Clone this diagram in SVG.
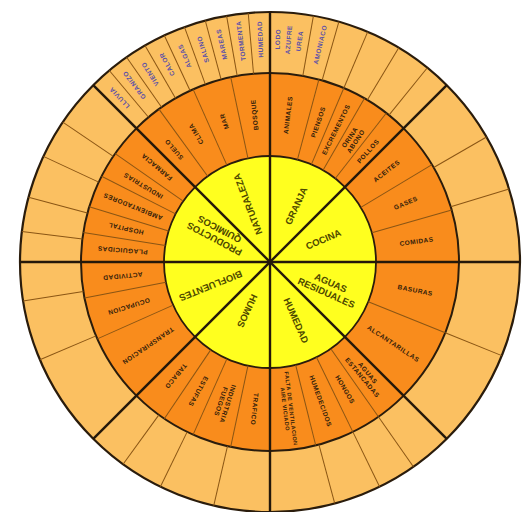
<svg xmlns="http://www.w3.org/2000/svg" width="523" height="512" viewBox="0 0 523 512">
<style>
.ro{fill:#FBC061;stroke:#2a1c0c;stroke-width:2.2}
.rm{fill:#F98C1C;stroke:#2a1c0c;stroke-width:2}
.ri{fill:#FFFF1F;stroke:#2a1c0c;stroke-width:1.8}
.thin{stroke:#8a5514;stroke-width:1}
.thick{stroke:#24180a;stroke-width:2.4}
text{font-family:"Liberation Sans",Arial,sans-serif;font-weight:bold;text-anchor:middle}
.ti{font-size:9.5px;fill:#4d4800}
.tm{font-size:6.5px;fill:#33200a;letter-spacing:0.5px}
.to{font-size:6.5px;fill:#5a4fa8;letter-spacing:0.5px}
</style>
<rect width="523" height="512" fill="#ffffff"/>
<g id="rings">
<circle class="ro" cx="270" cy="262" r="250"/>
<circle class="rm" cx="270" cy="262" r="189"/>
<circle class="ri" cx="270" cy="262" r="106"/>
</g>
<g id="connectors">
<g class="thin">
<line x1="459" y1="262" x2="520" y2="262" transform="rotate(-95 270 262)"/>
<line x1="459" y1="262" x2="520" y2="262" transform="rotate(-100 270 262)"/>
<line x1="459" y1="262" x2="520" y2="262" transform="rotate(-105 270 262)"/>
<line x1="459" y1="262" x2="520" y2="262" transform="rotate(-110 270 262)"/>
<line x1="459" y1="262" x2="520" y2="262" transform="rotate(-115 270 262)"/>
<line x1="459" y1="262" x2="520" y2="262" transform="rotate(-120 270 262)"/>
<line x1="459" y1="262" x2="520" y2="262" transform="rotate(-125 270 262)"/>
<line x1="459" y1="262" x2="520" y2="262" transform="rotate(-130 270 262)"/>
<line x1="459" y1="262" x2="520" y2="262" transform="rotate(-80 270 262)"/>
<line x1="459" y1="262" x2="520" y2="262" transform="rotate(-74 270 262)"/>
<line x1="459" y1="262" x2="520" y2="262" transform="rotate(-67 270 262)"/>
<line x1="459" y1="262" x2="520" y2="262" transform="rotate(-59 270 262)"/>
<line x1="459" y1="262" x2="520" y2="262" transform="rotate(-51 270 262)"/>
<line x1="459" y1="262" x2="520" y2="262" transform="rotate(-17 270 262)"/>
<line x1="459" y1="262" x2="520" y2="262" transform="rotate(-30 270 262)"/>
<line x1="459" y1="262" x2="520" y2="262" transform="rotate(22 270 262)"/>
<line x1="459" y1="262" x2="520" y2="262" transform="rotate(55 270 262)"/>
<line x1="459" y1="262" x2="520" y2="262" transform="rotate(64 270 262)"/>
<line x1="459" y1="262" x2="520" y2="262" transform="rotate(75 270 262)"/>
<line x1="459" y1="262" x2="520" y2="262" transform="rotate(-234 270 262)"/>
<line x1="459" y1="262" x2="520" y2="262" transform="rotate(-244 270 262)"/>
<line x1="459" y1="262" x2="520" y2="262" transform="rotate(-257 270 262)"/>
<line x1="459" y1="262" x2="520" y2="262" transform="rotate(-189 270 262)"/>
<line x1="459" y1="262" x2="520" y2="262" transform="rotate(-203 270 262)"/>
<line x1="459" y1="262" x2="520" y2="262" transform="rotate(-146 270 262)"/>
<line x1="459" y1="262" x2="520" y2="262" transform="rotate(-155 270 262)"/>
<line x1="459" y1="262" x2="520" y2="262" transform="rotate(-165 270 262)"/>
<line x1="459" y1="262" x2="520" y2="262" transform="rotate(-173 270 262)"/>
<line x1="376" y1="262" x2="459" y2="262" transform="rotate(-102 270 262)"/>
<line x1="376" y1="262" x2="459" y2="262" transform="rotate(-114 270 262)"/>
<line x1="376" y1="262" x2="459" y2="262" transform="rotate(-126 270 262)"/>
<line x1="376" y1="262" x2="459" y2="262" transform="rotate(-75 270 262)"/>
<line x1="376" y1="262" x2="459" y2="262" transform="rotate(-67 270 262)"/>
<line x1="376" y1="262" x2="459" y2="262" transform="rotate(-60 270 262)"/>
<line x1="376" y1="262" x2="459" y2="262" transform="rotate(-52 270 262)"/>
<line x1="376" y1="262" x2="459" y2="262" transform="rotate(-31 270 262)"/>
<line x1="376" y1="262" x2="459" y2="262" transform="rotate(-16 270 262)"/>
<line x1="376" y1="262" x2="459" y2="262" transform="rotate(22 270 262)"/>
<line x1="376" y1="262" x2="459" y2="262" transform="rotate(55 270 262)"/>
<line x1="376" y1="262" x2="459" y2="262" transform="rotate(64 270 262)"/>
<line x1="376" y1="262" x2="459" y2="262" transform="rotate(76 270 262)"/>
<line x1="376" y1="262" x2="459" y2="262" transform="rotate(-236 270 262)"/>
<line x1="376" y1="262" x2="459" y2="262" transform="rotate(-246 270 262)"/>
<line x1="376" y1="262" x2="459" y2="262" transform="rotate(-258 270 262)"/>
<line x1="376" y1="262" x2="459" y2="262" transform="rotate(-191 270 262)"/>
<line x1="376" y1="262" x2="459" y2="262" transform="rotate(-204 270 262)"/>
<line x1="376" y1="262" x2="459" y2="262" transform="rotate(-145 270 262)"/>
<line x1="376" y1="262" x2="459" y2="262" transform="rotate(-153 270 262)"/>
<line x1="376" y1="262" x2="459" y2="262" transform="rotate(-163 270 262)"/>
<line x1="376" y1="262" x2="459" y2="262" transform="rotate(-171 270 262)"/>
</g>
<g class="thick">
<line x1="20" y1="262" x2="520" y2="262"/>
<line x1="20" y1="262" x2="520" y2="262" transform="rotate(-90 270 262)"/>
<line x1="20" y1="262" x2="520" y2="262" transform="rotate(-45 270 262)"/>
<line x1="20" y1="262" x2="520" y2="262" transform="rotate(45 270 262)"/>
</g>
</g>
<g id="naturaleza">
<text class="ti" x="332" y="262" dy="0.35em" transform="rotate(-111 270 262)">NATURALEZA</text>
<text class="tm" x="418" y="262" dy="0.35em" transform="rotate(-96 270 262)">BOSQUE</text>
<text class="tm" x="418" y="262" dy="0.35em" transform="rotate(-108 270 262)">MAR</text>
<text class="tm" x="418" y="262" dy="0.35em" transform="rotate(-120 270 262)">CLIMA</text>
<text class="tm" x="418" y="262" dy="0.35em" transform="rotate(-130.5 270 262)">SUELO</text>
<text class="to" x="493" y="262" dy="0.35em" transform="rotate(-132.5 270 262)">LLUVIA</text>
<text class="to" x="493" y="262" dy="0.35em" transform="rotate(-127.5 270 262)">GRANIZO</text>
<text class="to" x="493" y="262" dy="0.35em" transform="rotate(-122.5 270 262)">VIENTO</text>
<text class="to" x="493" y="262" dy="0.35em" transform="rotate(-117.5 270 262)">CALOR</text>
<text class="to" x="493" y="262" dy="0.35em" transform="rotate(-112.5 270 262)">ALGAS</text>
<text class="to" x="493" y="262" dy="0.35em" transform="rotate(-107.5 270 262)">SALINO</text>
<text class="to" x="493" y="262" dy="0.35em" transform="rotate(-102.5 270 262)">MAREAS</text>
<text class="to" x="493" y="262" dy="0.35em" transform="rotate(-97.5 270 262)">TORMENTA</text>
<text class="to" x="493" y="262" dy="0.35em" transform="rotate(-92.5 270 262)">HUMEDAD</text>
</g>
<g id="granja">
<text class="ti" x="332" y="262" dy="0.35em" transform="rotate(-65 270 262)">GRANJA</text>
<text class="tm" x="418" y="262" dy="0.35em" transform="rotate(-83 270 262)">ANIMALES</text>
<text class="tm" x="418" y="262" dy="0.35em" transform="rotate(-71 270 262)">PIENSOS</text>
<text class="tm" x="418" y="262" dy="0.35em" transform="rotate(-63.5 270 262)">EXCREMENTOS</text>
<text class="tm" x="418" y="262" transform="rotate(-56 270 262)"><tspan x="418" dy="-0.2em">ORINA</tspan><tspan x="418" dy="1.1em">ABONO</tspan></text>
<text class="tm" x="418" y="262" dy="0.35em" transform="rotate(-48.5 270 262)">POLLOS</text>
<text class="to" x="493" y="262" dy="0.35em" transform="rotate(-88 270 262)">LODO</text>
<text class="to" x="493" y="262" dy="0.35em" transform="rotate(-85.2 270 262)">AZUFRE</text>
<text class="to" x="493" y="262" dy="0.35em" transform="rotate(-82.4 270 262)">UREA</text>
<text class="to" x="493" y="262" dy="0.35em" transform="rotate(-77 270 262)">AMONIACO</text>
</g>
<g id="cocina">
<text class="ti" x="328" y="262" dy="0.35em" transform="rotate(-23 270 262)">COCINA</text>
<text class="tm" x="418" y="262" dy="0.35em" transform="rotate(-38 270 262)">ACEITES</text>
<text class="tm" x="418" y="262" dy="0.35em" transform="rotate(-23.5 270 262)">GASES</text>
<text class="tm" x="418" y="262" dy="0.35em" transform="rotate(-8 270 262)">COMIDAS</text>
</g>
<g id="aguas-residuales">
<text class="ti" x="334" y="262" transform="rotate(24 270 262)"><tspan x="334" dy="-0.25em">AGUAS</tspan><tspan x="334" dy="1.15em">RESIDUALES</tspan></text>
<text class="tm" x="418" y="262" dy="0.35em" transform="rotate(11 270 262)">BASURAS</text>
<text class="tm" x="418" y="262" dy="0.35em" transform="rotate(33.5 270 262)">ALCANTARILLAS</text>
</g>
<g id="humedad">
<text class="ti" x="334" y="262" dy="0.35em" transform="rotate(66 270 262)">HUMEDAD</text>
<text class="tm" x="418" y="262" transform="rotate(50 270 262)"><tspan x="418" dy="-0.2em">AGUAS</tspan><tspan x="418" dy="1.1em">ESTANCADAS</tspan></text>
<text class="tm" x="418" y="262" dy="0.35em" transform="rotate(59.5 270 262)">HONGOS</text>
<text class="tm" x="418" y="262" dy="0.35em" transform="rotate(70 270 262)">HUMEDECIDOS</text>
<text class="tm" x="418" y="262" transform="rotate(83 270 262)" style="font-size:5.5px"><tspan x="418" dy="-0.2em">FALTA DE VENTILACION</tspan><tspan x="418" dy="1.1em">AIRE VICIADO</tspan></text>
</g>
<g id="humos">
<text class="ti" x="324" y="262" dy="0.35em" transform="rotate(-245 270 262)">HUMOS</text>
<text class="tm" x="418" y="262" dy="0.35em" transform="rotate(-264 270 262)">TRAFICO</text>
<text class="tm" x="418" y="262" transform="rotate(-252 270 262)"><tspan x="418" dy="-0.2em">INDUSTRIA</tspan><tspan x="418" dy="1.1em">FUEGOS</tspan></text>
<text class="tm" x="418" y="262" dy="0.35em" transform="rotate(-241 270 262)">ESTUFAS</text>
<text class="tm" x="418" y="262" dy="0.35em" transform="rotate(-230.5 270 262)">TABACO</text>
</g>
<g id="biofluentes">
<text class="ti" x="334" y="262" dy="0.35em" transform="rotate(-202 270 262)">BIOFLUENTES</text>
<text class="tm" x="418" y="262" dy="0.35em" transform="rotate(-185.5 270 262)">ACTIVIDAD</text>
<text class="tm" x="418" y="262" dy="0.35em" transform="rotate(-197.5 270 262)">OCUPACION</text>
<text class="tm" x="418" y="262" dy="0.35em" transform="rotate(-214.5 270 262)">TRANSPIRACION</text>
</g>
<g id="productos-quimicos">
<text class="ti" x="330" y="262" transform="rotate(-152 270 262)"><tspan x="330" dy="-0.25em">PRODUCTOS</tspan><tspan x="330" dy="1.15em">QUIMICOS</tspan></text>
<text class="tm" x="418" y="262" dy="0.35em" transform="rotate(-140 270 262)">FARMACIA</text>
<text class="tm" x="418" y="262" dy="0.35em" transform="rotate(-149 270 262)">INDUSTRIAS</text>
<text class="tm" x="418" y="262" dy="0.35em" transform="rotate(-158 270 262)">AMBIENTADORES</text>
<text class="tm" x="418" y="262" dy="0.35em" transform="rotate(-167 270 262)">HOSPITAL</text>
<text class="tm" x="418" y="262" dy="0.35em" transform="rotate(-175.5 270 262)">PLAGUICIDAS</text>
</g>
</svg>
